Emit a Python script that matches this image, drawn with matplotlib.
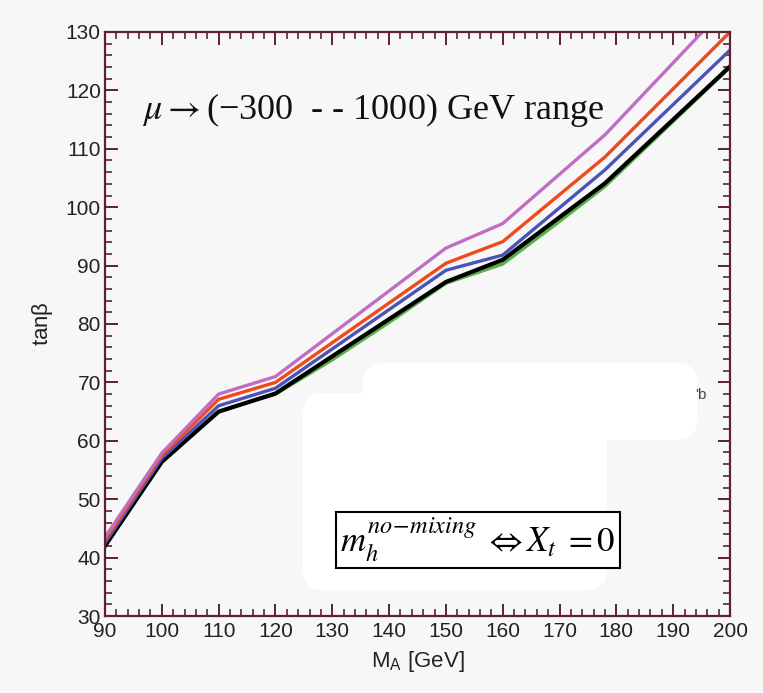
import matplotlib
matplotlib.use("Agg")
import matplotlib.pyplot as plt
from matplotlib.patches import FancyBboxPatch
from matplotlib.ticker import MultipleLocator

plt.rcParams["font.family"] = ["Liberation Sans", "DejaVu Sans"]
plt.rcParams["mathtext.fontset"] = "stix"

# M_A points (GeV) where the curves bend
m_a = [90, 100, 110, 120, 150, 160, 178, 200]
m_a_green = [90, 100, 110, 120, 130, 140, 150, 160, 170, 178, 200]

# tan(beta) reach for each mu choice
tb_purple = [43.5, 57.9, 68.0, 71.0, 93.0, 97.2, 112.4, 135.0]
tb_red = [43.0, 57.5, 67.1, 70.0, 90.4, 94.1, 108.6, 130.0]
tb_blue = [42.5, 57.0, 66.0, 69.0, 89.2, 91.8, 106.4, 126.9]
tb_black = [42.0, 56.4, 65.0, 68.1, 87.2, 91.0, 104.1, 124.1]
tb_green = [42.0, 56.4, 65.0, 68.0, 73.9, 80.3, 87.0, 90.3, 97.6, 103.6, 124.0]

series = [
    (m_a_green, tb_green, "#58b048", 2.6),
    (m_a, tb_black, "#000000", 3.0),
    (m_a, tb_blue, "#4a54b4", 2.4),
    (m_a, tb_red, "#ee4a1c", 2.4),
    (m_a, tb_purple, "#c06ec4", 2.4),
]

W, H = 763, 693
bg = "#f7f7f7"
frame = "#5e2232"
txt = "#222222"

fig = plt.figure(figsize=(W / 100, H / 100), dpi=100, facecolor=bg)
ax = fig.add_axes([105 / W, 1 - 616 / H, (730 - 105) / W, (616 - 32) / H])
ax.set_facecolor(bg)

for xs, ys, col, lw in series:
    ax.plot(xs, ys, color=col, lw=lw, solid_joinstyle="miter", clip_on=True)

ax.set_xlim(90, 200)
ax.set_ylim(30, 130)
ax.xaxis.set_major_locator(MultipleLocator(10))
ax.xaxis.set_minor_locator(MultipleLocator(2))
ax.yaxis.set_major_locator(MultipleLocator(10))
ax.yaxis.set_minor_locator(MultipleLocator(2))
ax.tick_params(which="both", direction="in", top=True, right=True,
               color=frame, labelcolor=txt, labelsize=15)
ax.tick_params(which="major", length=9, width=1.4)
ax.tick_params(axis="x", which="major", pad=4)
ax.tick_params(axis="y", which="major", pad=3)
ax.tick_params(which="minor", length=5, width=1.2)
for s in ax.spines.values():
    s.set_color(frame)
    s.set_linewidth(1.6)

ax.set_xlabel(r"M$_\mathregular{A}$ [GeV]", fontsize=16, color=txt, labelpad=6)
ax.set_ylabel(r"tan$\mathregular{\beta}$", fontsize=16, color=txt, labelpad=8)

# overlay in pixel coordinates for the annotations
ov = fig.add_axes([0, 0, 1, 1], facecolor="none")
ov.set_xlim(0, W)
ov.set_ylim(H, 0)
ov.axis("off")

ov.text(142, 110, r"$\mu\rightarrow$(−300  - - 1000) GeV range",
        family="Liberation Serif", fontsize=26, va="center", ha="left", color="#111111")

for (x0, y0, w, h) in [(363, 363, 334, 77), (303, 393, 304, 197)]:
    ov.add_patch(FancyBboxPatch((x0, y0), w, h,
                                boxstyle="round,pad=0,rounding_size=20",
                                facecolor="white", edgecolor="none"))
ov.text(701, 395, "'b", fontsize=11, color="#444444", va="center", ha="center")

ov.text(478, 540, r"$m_h^{no\!-\!mixing}\;\Leftrightarrow X_t\;=0$",
        fontsize=25, ha="center", va="center", color="black",
        bbox=dict(boxstyle="square,pad=0.12", facecolor="white",
                  edgecolor="black", linewidth=1.5))

fig.savefig("out.png", dpi=100, facecolor=bg)
